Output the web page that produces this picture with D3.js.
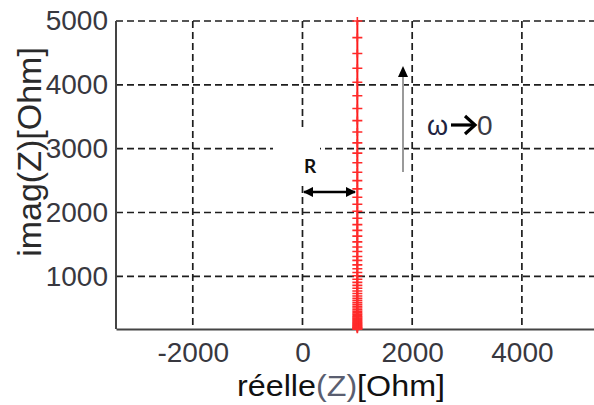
<!DOCTYPE html>
<html><head><meta charset="utf-8">
<script src="https://cdn.jsdelivr.net/npm/d3@7"></script>
<style>html,body{margin:0;padding:0;background:#fff;overflow:hidden}svg{display:block}</style>
</head><body>
<script>
// ---- data ----
const xTicks = [-2000, 0, 2000, 4000];
const yTicks = [1000, 2000, 3000, 4000, 5000];
const realPart = 1000; // R = 1000 Ohm (constant real part)
const imagValues = [5000, 4740, 4490, 4260, 4040, 3830, 3630, 3440, 3260, 3090, 2930, 2780, 2630, 2500,
  2370, 2240, 2130, 2020, 1910, 1810, 1720, 1630, 1540, 1460, 1390, 1310, 1250, 1180, 1120, 1060,
  1010, 955, 905, 858, 813, 771, 731, 693, 657, 623, 590, 560, 530, 503, 477, 452, 428, 406, 385,
  365, 346, 328, 311, 295, 280, 265, 251, 238, 226, 214, 203, 193, 183, 173];
const xDomain = [-3400, 5500];
const yDomain = [175, 5000];

const W = 594, H = 405;
const L = 116, T = 21, B = 329;
const svg = d3.select("body").append("svg").attr("width", W).attr("height", H);

const x = d3.scaleLinear().domain(xDomain).range([L, L + 8900 * 0.05485]);
const y = d3.scaleLinear().domain(yDomain).range([B, T]);

const tickFont = "'Liberation Sans', Arial, sans-serif";
const fmt = d => String(d);

// grid
const grid = svg.append("g").attr("stroke", "#1e1e1e").attr("stroke-width", 1.7).attr("stroke-dasharray", "7,4");
grid.selectAll("line.v").data(xTicks).join("line").attr("class", "v")
  .attr("x1", d => x(d)).attr("x2", d => x(d)).attr("y1", T).attr("y2", B);
grid.selectAll("line.h").data(yTicks).join("line").attr("class", "h")
  .attr("x1", L).attr("x2", x.range()[1]).attr("y1", d => y(d)).attr("y2", d => y(d));

// axes
const yAxis = d3.axisLeft(y).tickValues(yTicks).tickFormat(fmt).tickSize(0).tickPadding(8);
const xAxis = d3.axisBottom(x).tickValues(xTicks).tickFormat(fmt).tickSize(0).tickPadding(11);
const gy = svg.append("g").attr("transform", `translate(${L},0)`).call(yAxis);
const gx = svg.append("g").attr("transform", `translate(0,${B})`).call(xAxis);
[gx, gy].forEach(g => {
  g.select(".domain").attr("stroke", "#444").attr("stroke-width", 2);
  g.selectAll("text").attr("font-family", tickFont).attr("font-size", 28).attr("fill", "#38383f");
});
gy.select(".domain").attr("d", `M0,${T}V${B}`);
gx.selectAll("text").attr("dy", "0.78em");

// white box behind R label
svg.append("rect").attr("x", 273).attr("y", 128).attr("width", 47).attr("height", 57).attr("fill", "#fff");

// red data line
const pts = imagValues.map(v => [realPart, v]);
svg.append("path").datum(pts)
  .attr("fill", "none").attr("stroke", "#ff1a1a").attr("stroke-width", 2)
  .attr("d", d3.line().x(d => x(d[0])).y(d => y(d[1])));
svg.append("g").selectAll("path").data(pts).join("path")
  .attr("transform", d => `translate(${x(d[0])},${y(d[1])})`)
  .attr("d", "M-5,0H5M0,-4V4")
  .attr("stroke", "#ff2a2a").attr("stroke-width", 1.6).attr("fill", "none");

// annotations
const defs = svg.append("defs");
defs.append("marker").attr("id", "ah").attr("viewBox", "0 0 10 10").attr("refX", 9).attr("refY", 5)
  .attr("markerWidth", 4).attr("markerHeight", 4).attr("orient", "auto-start-reverse")
  .append("path").attr("d", "M0,0L10,5L0,10Z").attr("fill", "#000");

// R double arrow
svg.append("text").attr("x", 304).attr("y", 173).text("R")
  .attr("font-family", "Lato, 'Open Sans', sans-serif").attr("font-weight", "bold").attr("font-size", 19).attr("fill", "#111");
svg.append("line").attr("x1", 304).attr("x2", 355).attr("y1", 192).attr("y2", 192)
  .attr("stroke", "#000").attr("stroke-width", 2.6)
  .attr("marker-start", "url(#ah)").attr("marker-end", "url(#ah)");

// gray arrow omega -> 0
svg.append("line").attr("x1", 403).attr("x2", 403).attr("y1", 172).attr("y2", 76)
  .attr("stroke", "#9a9a9a").attr("stroke-width", 2);
svg.append("path").attr("d", "M403,66L398,77L408,77Z").attr("fill", "#000");

svg.append("text").attr("x", 427).attr("y", 135).text("ω")
  .attr("font-family", tickFont).attr("font-size", 27).attr("fill", "#1e2340");
svg.append("path").attr("d", "M451,125H474").attr("stroke", "#000").attr("stroke-width", 3.2);
svg.append("path").attr("d", "M465,116L475,125L465,134").attr("stroke", "#000").attr("stroke-width", 3.2)
  .attr("fill", "none");
svg.append("text").attr("x", 477).attr("y", 135).text("0")
  .attr("font-family", tickFont).attr("font-size", 28).attr("fill", "#3b3b44");

// axis labels
svg.append("text").attr("transform", "translate(41,152) rotate(-90)")
  .attr("text-anchor", "middle").attr("font-family", tickFont).attr("font-size", 34)
  .attr("fill", "#2a2a2a").text("imag(Z)[Ohm]");

const xl = svg.append("text").attr("x", 237).attr("y", 396)
  .attr("font-family", tickFont).attr("font-size", 29).attr("fill", "#111")
  .attr("textLength", 208).attr("lengthAdjust", "spacingAndGlyphs");
xl.append("tspan").text("réelle");
xl.append("tspan").attr("fill", "#5a5e70").text("(Z)");
xl.append("tspan").text("[Ohm]");
</script>
</body></html>
